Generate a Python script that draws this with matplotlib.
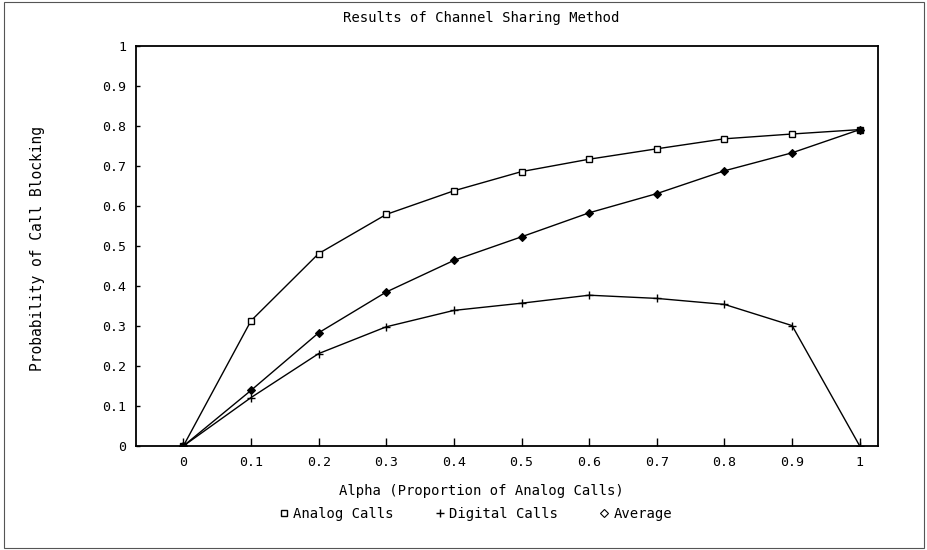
import matplotlib
matplotlib.use("Agg")
import matplotlib.pyplot as plt
from matplotlib.lines import Line2D
from matplotlib.patches import Rectangle

alpha = [0, 0.1, 0.2, 0.3, 0.4, 0.5, 0.6, 0.7, 0.8, 0.9, 1.0]
analog = [0.0, 0.313, 0.481, 0.579, 0.638, 0.686, 0.717, 0.743, 0.768, 0.780, 0.791]
digital = [0.0, 0.121, 0.231, 0.298, 0.339, 0.357, 0.377, 0.369, 0.354, 0.301, 0.0]
average = [0.0, 0.139, 0.283, 0.385, 0.464, 0.523, 0.583, 0.631, 0.688, 0.733, 0.791]
xticks = [0, 0.1, 0.2, 0.3, 0.4, 0.5, 0.6, 0.7, 0.8, 0.9, 1]
xticklabels = ["0", "0.1", "0.2", "0.3", "0.4", "0.5", "0.6", "0.7", "0.8", "0.9", "1"]
yticks = [0, 0.1, 0.2, 0.3, 0.4, 0.5, 0.6, 0.7, 0.8, 0.9, 1]
yticklabels = ["0", "0.1", "0.2", "0.3", "0.4", "0.5", "0.6", "0.7", "0.8", "0.9", "1"]

plt.rcParams['font.family'] = ['DejaVu Sans Mono']
fs = 10
tfs = 9.5

fig = plt.figure(figsize=(9.28, 5.5), dpi=100)
ax = fig.add_axes([136/928, 104/550, 742/928, 400/550])

lw = 1.0
ax.plot(alpha, analog, color='black', lw=lw, marker='s', ms=5, mfc='white', mec='black', mew=1.0)
ax.plot(alpha, digital, color='black', lw=lw, marker='+', ms=6, mew=1.0)
ax.plot(alpha, average, color='black', lw=lw, marker='D', ms=4, mfc='black', mec='black', mew=0.8)

ax.set_xlim(-0.07, 1.027)
ax.set_ylim(0, 1)
ax.set_xticks(xticks)
ax.set_xticklabels(xticklabels, fontsize=tfs)
ax.set_yticks(yticks)
ax.set_yticklabels(yticklabels, fontsize=tfs)
ax.tick_params(axis='x', direction='in', length=6, width=1.0, pad=7)
ax.tick_params(axis='y', direction='in', length=3, width=1.0, pad=7)
for s in ax.spines.values():
    s.set_linewidth(1.3)
    s.set_color('black')

fig.text(481/928, 1 - 18/550, "Results of Channel Sharing Method", ha='center', va='center', fontsize=fs)
fig.text(481/928, 1 - 491/550, "Alpha (Proportion of Analog Calls)", ha='center', va='center', fontsize=fs)
fig.text(38/928, 1 - 249/550, "Probability of Call Blocking", ha='center', va='center', rotation=90, fontsize=10.5)

handles = [
    Line2D([], [], ls='none', marker='s', ms=4, mfc='white', mec='black', mew=1.0, color='black'),
    Line2D([], [], ls='none', marker='+', ms=6, mew=1.0, color='black'),
    Line2D([], [], ls='none', marker='D', ms=4, mfc='white', mec='black', mew=0.8, color='black'),
]
fig.legend(handles, ["Analog Calls", "Digital Calls", "Average"], loc='center',
           bbox_to_anchor=(476/928, 1 - 514/550), ncol=3, frameon=False, fontsize=fs,
           handlelength=0.6, handletextpad=0.4, columnspacing=3.0)

fig.patches.append(Rectangle((0.004, 0.004), 0.992, 0.992, transform=fig.transFigure,
                             fill=False, edgecolor='#555555', lw=0.8))

fig.savefig("out.png", dpi=100)
